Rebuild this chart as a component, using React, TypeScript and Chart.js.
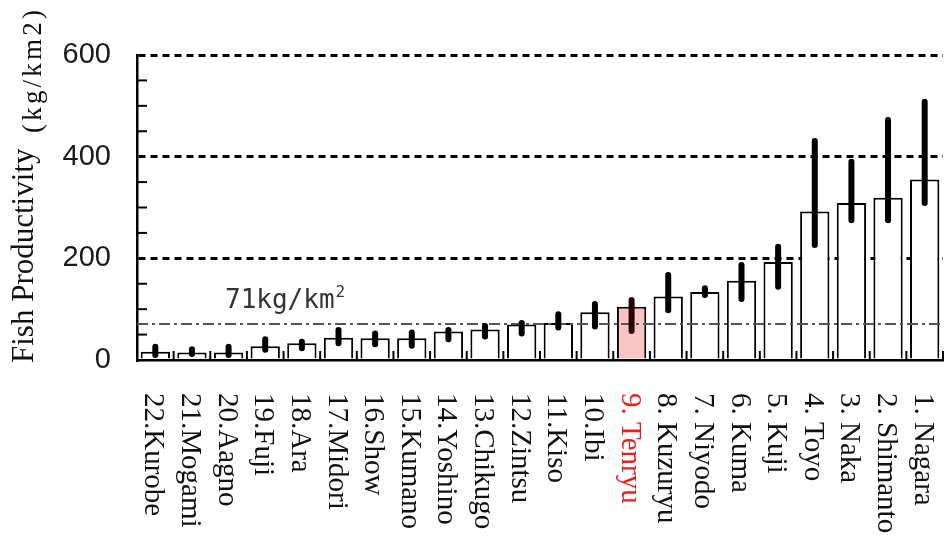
import React, { useEffect, useRef } from "react";
import { Chart, registerables } from "chart.js";

Chart.register(...registerables);

const riverLabels = [
  "22.Kurobe", "21.Mogami", "20.Aagno", "19.Fuji", "18.Ara", "17.Midori",
  "16.Show", "15.Kumano", "14.Yoshino", "13.Chikugo", "12.Zintsu", "11.Kiso",
  "10.Ibi", "9. Tenryu", "8. Kuzuryu", "7. Niyodo", "6. Kuma", "5. Kuji",
  "4. Toyo", "3. Naka", "2. Shimanto", "1. Nagara",
];
const productivity = [16, 15, 15, 27, 33, 44, 43, 43, 56, 60, 70, 73, 94, 105, 125, 134, 156, 193, 292, 309, 319, 355];
const errLow = [10, 12, 10, 20, 23, 33, 31, 28, 41, 46, 52, 64, 66, 57, 98, 128, 120, 144, 226, 275, 275, 309];
const errHigh = [26, 21, 26, 41, 36, 59, 52, 54, 59, 67, 73, 90, 110, 118, 167, 141, 187, 223, 431, 390, 472, 508];
const highlightLabel = "9. Tenryu";
const referenceValue = 71;
const referenceText = "71kg/km";
const yTitleMain = "Fish Productivity";
const yTitleUnit = "(kg/km2)";
const minorTickValues = [50, 100, 150, 250, 300, 350, 450, 500, 550];

const overlayPlugin = {
  id: "overlay",
  afterDatasetsDraw(chart: any) {
    const { ctx, chartArea, scales } = chart;
    const xs = scales.x;
    const ys = scales.y;
    ctx.save();
    // reference dash-dot line
    const yRef = ys.getPixelForValue(referenceValue);
    ctx.strokeStyle = "#555";
    ctx.lineWidth = 2;
    ctx.setLineDash([11, 4, 3, 4]);
    ctx.beginPath();
    ctx.moveTo(chartArea.left, yRef);
    ctx.lineTo(chartArea.right, yRef);
    ctx.stroke();
    ctx.setLineDash([]);

    // error bars
    ctx.lineCap = "round";
    ctx.lineWidth = 6;
    for (let i = 0; i < productivity.length; i++) {
      const x = xs.getPixelForValue(i);
      ctx.strokeStyle = riverLabels[i] === highlightLabel ? "#2a0000" : "#000";
      ctx.beginPath();
      ctx.moveTo(x, ys.getPixelForValue(errLow[i]));
      ctx.lineTo(x, ys.getPixelForValue(errHigh[i]));
      ctx.stroke();
    }
    ctx.lineCap = "butt";

    // x inner ticks at category boundaries
    ctx.strokeStyle = "#000";
    ctx.lineWidth = 2;
    for (let i = 0; i < productivity.length; i++) {
      const xb = (xs.getPixelForValue(i) + xs.getPixelForValue(i + 1)) / 2;
      if (xb > chartArea.right) continue;
      ctx.beginPath();
      ctx.moveTo(xb, chartArea.bottom);
      ctx.lineTo(xb, chartArea.bottom - 9);
      ctx.stroke();
    }
    // y inner minor ticks
    for (const v of minorTickValues) {
      const y = ys.getPixelForValue(v);
      ctx.beginPath();
      ctx.moveTo(chartArea.left, y);
      ctx.lineTo(chartArea.left + 10, y);
      ctx.stroke();
    }

    // reference label
    ctx.fillStyle = "#333";
    ctx.font = "26px 'DejaVu Sans Mono'";
    ctx.textAlign = "left";
    ctx.textBaseline = "alphabetic";
    ctx.fillText(referenceText, 225, 308);
    const w = ctx.measureText(referenceText).width;
    ctx.font = "16px 'DejaVu Sans Mono'";
    ctx.fillText("2", 225 + w + 1, 297);

    // x labels rotated clockwise
    ctx.font = "29px 'Liberation Serif'";
    for (let i = 0; i < riverLabels.length; i++) {
      const x = xs.getPixelForValue(i);
      ctx.save();
      ctx.translate(x, 393);
      ctx.rotate(Math.PI / 2);
      ctx.fillStyle = riverLabels[i] === highlightLabel ? "#e8201c" : "#111";
      ctx.textAlign = "left";
      ctx.textBaseline = "alphabetic";
      ctx.fillText(riverLabels[i], 0, 10);
      ctx.restore();
    }

    // y title
    ctx.save();
    ctx.translate(33, 363);
    ctx.rotate(-Math.PI / 2);
    ctx.fillStyle = "#111";
    ctx.textAlign = "left";
    ctx.font = "31px 'Liberation Serif'";
    ctx.fillText(yTitleMain, 0, 0);
    ctx.font = "27px 'Liberation Serif'";
    const uw = ctx.measureText(yTitleUnit).width;
    const target = 126;
    const spacing = Math.max(0, (target - uw) / yTitleUnit.length);
    (ctx as any).letterSpacing = spacing.toFixed(1) + "px";
    ctx.fillText(yTitleUnit, 230, 8);
    (ctx as any).letterSpacing = "0px";
    ctx.restore();

    ctx.restore();
  },
};

export default function App() {
  const canvasRef = useRef<HTMLCanvasElement | null>(null);

  useEffect(() => {
    if (!canvasRef.current) return;
    const chart = new Chart(canvasRef.current, {
      type: "bar",
      data: {
        labels: riverLabels,
        datasets: [
          {
            data: productivity,
            backgroundColor: riverLabels.map((l) => (l === highlightLabel ? "#f9c4c2" : "#ffffff")),
            borderColor: "#000",
            borderWidth: 2,
            barPercentage: 0.8,
            categoryPercentage: 1,
          },
        ],
      },
      plugins: [overlayPlugin],
      options: {
        animation: false,
        responsive: true,
        maintainAspectRatio: false,
        layout: { padding: { left: 0, top: 55, right: 3, bottom: 0 } },
        plugins: { legend: { display: false }, tooltip: { enabled: false }, title: { display: false } },
        scales: {
          x: {
            type: "category",
            offset: true,
            grid: { display: false, drawTicks: false },
            ticks: { display: false },
            border: { display: true, color: "#000", width: 2.5 },
            afterFit: (scale: any) => {
              scale.height = 181;
            },
          },
          y: {
            min: 0,
            max: 600,
            ticks: {
              stepSize: 200,
              padding: 26,
              color: "#1a1a1a",
              font: { family: "'Liberation Sans'", size: 29 },
            },
            grid: {
              drawTicks: false,
              tickLength: 0,
              lineWidth: 3,
              color: (c: any) => (c.tick && c.tick.value !== 0 ? "#000" : "rgba(0,0,0,0)"),
            },
            border: { display: true, color: "#000", width: 2.5, dash: [7, 5] },
            afterFit: (scale: any) => {
              scale.width = 137;
            },
          },
        },
      },
    });
    return () => chart.destroy();
  }, []);

  return (
    <div style={{ position: "absolute", left: 0, top: 0, width: 946, height: 541, background: "#fff" }}>
      <canvas ref={canvasRef} />
    </div>
  );
}
